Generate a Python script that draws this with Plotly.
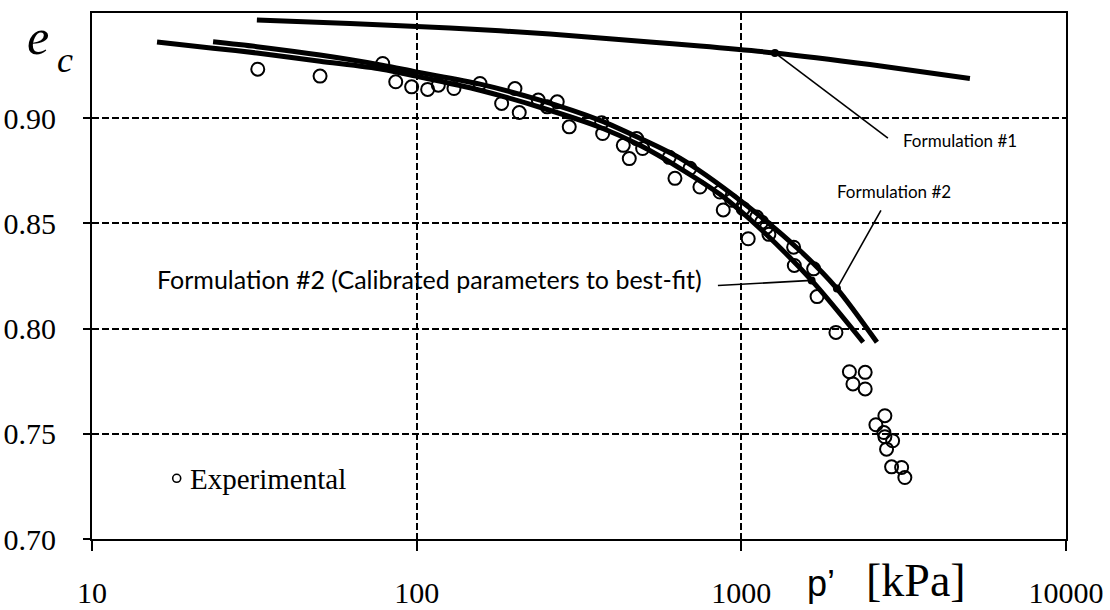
import plotly.graph_objects as go

# Experimental critical-state points: mean effective stress p' [kPa] and void ratio e_c
exp_p = [32.4, 50.4, 78.6, 86.2, 96.5, 108.1, 116.6, 130.3, 156.7, 182.7,
         200.8, 207.0, 236.9, 252.5, 271.0, 295.1, 371.3, 374.0, 432.9, 451.7,
         476.0, 496.6, 599.8, 624.5, 694.5, 745.5, 859.3, 879.7, 933.5, 1013,
         1050, 1115, 1155, 1196, 1216, 1449, 1456, 1670, 1711, 1956,
         2152, 2407, 2207, 2407, 2768, 2597, 2749, 2768, 2924, 2801,
         2903, 3117, 3189]
exp_e = [0.9233, 0.9200, 0.9260, 0.9173, 0.9149, 0.9137, 0.9157, 0.9141, 0.9165, 0.9070,
         0.9141, 0.9027, 0.9086, 0.9054, 0.9078, 0.8959, 0.8978, 0.8927, 0.8871, 0.8808,
         0.8903, 0.8856, 0.8814, 0.8714, 0.8762, 0.8673, 0.8649, 0.8564, 0.8610, 0.8570,
         0.8427, 0.8530, 0.8506, 0.8482, 0.8448, 0.8387, 0.8300, 0.8284, 0.8152, 0.7982,
         0.7795, 0.7792, 0.7737, 0.7713, 0.7586, 0.7543, 0.7506, 0.7486, 0.7467, 0.7427,
         0.7343, 0.7340, 0.7292]

# Formulation #1
f1_p = [32.2, 62.3, 126.6, 257.4, 523, 745.6, 1269, 2489, 5059]
f1_e = [0.9467, 0.9450, 0.9429, 0.9400, 0.9362, 0.9343, 0.9310, 0.9255, 0.9189]

# Formulation #2
f2_p = [23.6, 32.2, 50.4, 78.2, 99.5, 156.7, 239.7, 366.9, 487.2, 647.1, 990, 1515, 1970, 2616]
f2_e = [0.9363, 0.9340, 0.9300, 0.9252, 0.9220, 0.9162, 0.9086, 0.8990, 0.8905, 0.8810,
        0.8610, 0.8371, 0.8190, 0.7935]

# Formulation #2 with calibrated (best-fit) parameters
f2c_p = [15.86, 23.6, 32.2, 50.4, 78.2, 99.5, 156.7, 239.7, 366.9, 487.2, 647.1, 859.3,
         1141, 1646, 2373]
f2c_e = [0.9362, 0.9333, 0.9310, 0.9271, 0.9233, 0.9200, 0.9133, 0.9052, 0.8957, 0.8871,
         0.8762, 0.8638, 0.8476, 0.8229, 0.7935]

# Label leaders: (point on curve) -> (label end)
lead_f1_p, lead_f1_e = [1269, 2828], [0.9310, 0.8905]
lead_f2_p, lead_f2_e = [1970, 2692], [0.8190, 0.8562]
lead_f2c_p, lead_f2c_e = [1646, 847], [0.8229, 0.8205]

x_ticks = [10, 100, 1000, 10000]
x_ticktext = ["10", "100", "1000", "10000"]
y_ticks = [0.70, 0.75, 0.80, 0.85, 0.90]
y_ticktext = ["0.70", "0.75", "0.80", "0.85", "0.90"]

W, H = 1110, 610
ML, MR, MT, MB = 92, 44, 13, 71
PW, PH = W - ML - MR, H - MT - MB


def px(x):
    return (x - ML) / PW


def py(y):
    return (H - MB - y) / PH


SERIF = "Liberation Serif"
SANS_LBL = "Lato, Open Sans, sans-serif"

fig = go.Figure()

fig.add_trace(go.Scatter(
    x=exp_p, y=exp_e, mode="markers", name="Experimental",
    marker=dict(symbol="circle-open", size=13, color="black", line=dict(width=2, color="black")),
))

for xs, ys in [(f1_p, f1_e), (f2_p, f2_e), (f2c_p, f2c_e)]:
    fig.add_trace(go.Scatter(
        x=xs, y=ys, mode="lines",
        line=dict(color="black", width=5, shape="spline", smoothing=0.8),
    ))

for xs, ys in [(lead_f1_p, lead_f1_e), (lead_f2_p, lead_f2_e), (lead_f2c_p, lead_f2c_e)]:
    fig.add_trace(go.Scatter(
        x=xs, y=ys, mode="lines", line=dict(color="black", width=1.6),
    ))
    fig.add_trace(go.Scatter(
        x=xs[:1], y=ys[:1], mode="markers",
        marker=dict(symbol="circle", size=8, color="black"),
    ))

grid_dash = "7px,3px"
fig.update_xaxes(
    type="log", range=[1, 4], automargin=False,
    tickvals=x_ticks, ticktext=x_ticktext,
    showline=True, linecolor="black", linewidth=2, mirror=True,
    ticks="outside", ticklen=10, tickwidth=1.5, tickcolor="black",
    showgrid=True, gridcolor="black", gridwidth=1.5, griddash=grid_dash,
    zeroline=False, ticklabelstandoff=16,
    tickfont=dict(family=SERIF, size=30, color="black"),
)
fig.update_yaxes(
    range=[0.70, 0.95], automargin=False,
    tickvals=y_ticks, ticktext=y_ticktext,
    showline=True, linecolor="black", linewidth=2, mirror=True,
    ticks="outside", ticklen=7, tickwidth=1.5, tickcolor="black",
    showgrid=True, gridcolor="black", gridwidth=1.5, griddash=grid_dash,
    zeroline=False, ticklabelstandoff=21,
    tickfont=dict(family=SERIF, size=30, color="black"),
)

annotations = [
    # axis titles
    dict(x=px(805), y=py(583), text="p’", xanchor="left", yanchor="middle",
         font=dict(family="Liberation Sans, Arial, sans-serif", size=36, color="black")),
    dict(x=px(864), y=py(580), text="[kPa]", xanchor="left", yanchor="middle",
         font=dict(family=SERIF, size=46, color="black")),
    dict(x=px(25), y=py(37), text="<i>e</i>", xanchor="left", yanchor="middle",
         font=dict(family=SERIF, size=50, color="black")),
    dict(x=px(55), y=py(60), text="<i>c</i>", xanchor="left", yanchor="middle",
         font=dict(family=SERIF, size=36, color="black")),
    # curve labels
    dict(x=px(901), y=py(140), text="Formulation #1", xanchor="left", yanchor="middle",
         font=dict(family=SANS_LBL, size=17, color="black")),
    dict(x=px(835), y=py(191), text="Formulation #2", xanchor="left", yanchor="middle",
         font=dict(family=SANS_LBL, size=17, color="black")),
    dict(x=px(155), y=py(279), text="Formulation #2 (Calibrated parameters to best-fit)",
         xanchor="left", yanchor="middle",
         font=dict(family=SANS_LBL, size=25, color="black")),
    # legend entry
    dict(x=px(188), y=py(479), text="Experimental", xanchor="left", yanchor="middle",
         font=dict(family=SERIF, size=29, color="black")),
]
for a in annotations:
    a.update(xref="paper", yref="paper", showarrow=False)

fig.update_layout(
    width=W, height=H,
    margin=dict(l=ML, r=MR, t=MT, b=MB),
    paper_bgcolor="white", plot_bgcolor="white",
    showlegend=False,
    annotations=annotations,
    shapes=[dict(
        type="circle", xref="paper", yref="paper",
        xsizemode="pixel", ysizemode="pixel",
        xanchor=px(176.7), yanchor=py(478.3),
        x0=-4, x1=4, y0=-4, y1=4,
        line=dict(color="black", width=1.6),
    )],
)

fig.write_html("out.html")
